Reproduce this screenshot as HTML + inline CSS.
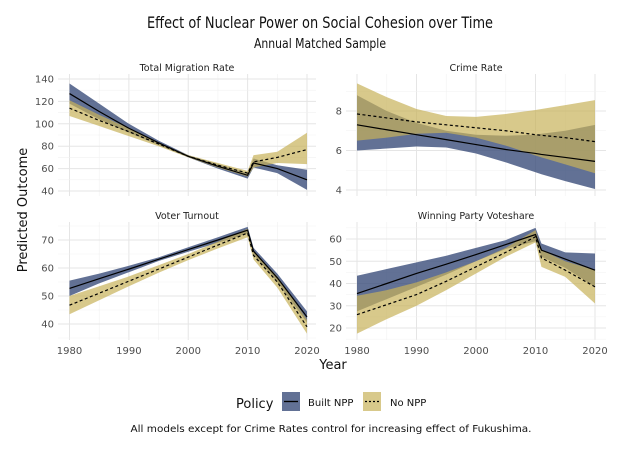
<!DOCTYPE html>
<html><head><meta charset="utf-8"><style>
body{margin:0;background:#fff}
svg{display:block;font-family:"DejaVu Sans","Liberation Sans",sans-serif}
</style></head><body>
<svg id="chart" width="640" height="450" viewBox="0 0 640 450">
<text x="320" y="28" text-anchor="middle" font-size="16" fill="#111" textLength="346" lengthAdjust="spacingAndGlyphs">Effect of Nuclear Power on Social Cohesion over Time</text>
<text x="320" y="48" text-anchor="middle" font-size="13" fill="#111" textLength="132" lengthAdjust="spacingAndGlyphs">Annual Matched Sample</text>
<text transform="translate(27,210) rotate(-90)" text-anchor="middle" font-size="13" fill="#111">Predicted Outcome</text>
<text x="333" y="369" text-anchor="middle" font-size="13" fill="#111">Year</text>
<g>
<text x="236" y="408" font-size="13" fill="#111">Policy</text>
<g><rect x="282" y="392" width="18" height="19" fill="#3b4d7a" fill-opacity="0.8"/><line x1="284" y1="401.5" x2="298" y2="401.5" stroke="#000" stroke-width="1.3"/><text x="308" y="406" font-size="10" fill="#111">Built NPP</text></g>
<g><rect x="363" y="392" width="18" height="19" fill="#c8b25a" fill-opacity="0.7"/><line x1="365" y1="401.5" x2="379" y2="401.5" stroke="#000" stroke-width="1.3" stroke-dasharray="2,2"/><text x="390" y="406" font-size="10" fill="#111">No NPP</text></g>
</g>
<text x="331" y="432" text-anchor="middle" font-size="10" fill="#111" textLength="401" lengthAdjust="spacingAndGlyphs">All models except for Crime Rates control for increasing effect of Fukushima.</text>
</svg>
<script>
const years=[1980,1985,1990,1995,2000,2005,2010,2011,2015,2020];
const xTicks=[1980,1990,2000,2010,2020];
const panelTitles=["Total Migration Rate","Crime Rate","Voter Turnout","Winning Party Voteshare"];
const migB=[127,111,96,83,71,62,54,65,60,50];
const migBlo=[118,104,92,81,70,60,51,61,56,41];
const migBhi=[136,118,100,85,72,64,56,69,63,59];
const migN=[114,103,93,82,71,63,56,66,70,77];
const migNlo=[107,98,89,80,70,61,53,61,65,64];
const migNhi=[121,108,96,83,72,65,58,72,75,92];
const crmB=[7.3,7.05,6.8,6.55,6.3,6.05,5.85,5.8,5.65,5.45];
const crmBlo=[6.0,6.1,6.2,6.15,5.85,5.4,4.9,4.8,4.45,4.05];
const crmBhi=[8.8,8.0,7.4,7.0,6.8,6.75,6.8,6.85,7.0,7.3];
const crmN=[7.85,7.65,7.45,7.3,7.15,7.0,6.8,6.77,6.65,6.45];
const crmNlo=[6.5,6.65,6.85,6.9,6.65,6.25,5.75,5.65,5.3,4.85];
const crmNhi=[9.4,8.7,8.1,7.75,7.7,7.85,8.05,8.1,8.3,8.55];
const vtB=[52.7,56.2,59.6,63.1,66.6,70,73.5,66,56.5,42.5];
const vtBlo=[50,54.5,58.5,62.5,65.8,69,72.3,64.8,55,40.5];
const vtBhi=[55.5,58,60.8,63.8,67.4,71,74.7,67.2,58,44.5];
const vtN=[46.7,51,55.3,59.6,63.9,68.2,72.5,64.5,55,39];
const vtNlo=[43.5,48.5,53.5,58.3,62.8,67,71,63,53,36.5];
const vtNhi=[50,53.5,57,61,65,69.4,74,66,57,41.5];
const vsB=[35.5,40,44.5,48.7,53,57.5,62,55,51,46];
const vsBlo=[27.5,33,38.5,44,50,55.5,59,52,47,38.5];
const vsBhi=[43.5,46.5,49.5,52.5,56,59.5,65,58,54,53.5];
const vsN=[26,30.5,35,41,47.5,54,61,51.5,46,38.5];
const vsNlo=[17.5,24,30,37,44.5,52,58.5,47.5,43,31];
const vsNhi=[34.5,37,40.5,45,50,56,64,55,50,46];
const yTicksMig=[40,60,80,100,120,140];
const yTicksCrm=[4,6,8];
const yTicksVt=[40,50,60,70];
const yTicksVs=[20,30,40,50,60];

const NS="http://www.w3.org/2000/svg";
const svg=document.getElementById('chart');
function mk(t,a,p){const e=document.createElementNS(NS,t);for(const k in a)e.setAttribute(k,a[k]);(p||svg).appendChild(e);return e;}
const panels=[
 {title:panelTitles[0],x0:58,x1:316,y0:74,y1:196,xa:69.5,xb:307,va:140,pa:79,vb:40,pb:191,ticks:yTicksMig,minor:20,B:migB,Blo:migBlo,Bhi:migBhi,N:migN,Nlo:migNlo,Nhi:migNhi,key:'migration',xl:false},
 {title:panelTitles[1],x0:346,x1:606,y0:74,y1:196,xa:357,xb:595,va:8,pa:111,vb:4,pb:190,ticks:yTicksCrm,minor:2,B:crmB,Blo:crmBlo,Bhi:crmBhi,N:crmN,Nlo:crmNlo,Nhi:crmNhi,key:'crime',xl:false},
 {title:panelTitles[2],x0:58,x1:316,y0:222,y1:340,xa:69.5,xb:307,va:70,pa:240,vb:40,pb:324,ticks:yTicksVt,minor:10,B:vtB,Blo:vtBlo,Bhi:vtBhi,N:vtN,Nlo:vtNlo,Nhi:vtNhi,key:'turnout',xl:true},
 {title:panelTitles[3],x0:346,x1:606,y0:222,y1:340,xa:357,xb:595,va:60,pa:239,vb:20,pb:328,ticks:yTicksVs,minor:10,B:vsB,Blo:vsBlo,Bhi:vsBhi,N:vsN,Nlo:vsNlo,Nhi:vsNhi,key:'voteshare',xl:true}
];
panels.forEach(p=>{
 const X=v=>p.xa+(v-1980)/40*(p.xb-p.xa);
 const Y=v=>p.pa+(v-p.va)/(p.vb-p.va)*(p.pb-p.pa);
 const g=mk('g',{});
 
 
 const t=mk('text',{x:(p.x0+p.x1)/2,y:p.y0-3,'text-anchor':'middle','font-size':9.5,fill:'#222'},g);t.textContent=p.title;
 
 
 for(let i=0;i<xTicks.length;i++){
  const v=xTicks[i];
  mk('line',{x1:X(v),x2:X(v),y1:p.y0,y2:p.y1,stroke:'#e5e5e5','stroke-width':1},g);
  if(i<xTicks.length-1)mk('line',{x1:X(v+5),x2:X(v+5),y1:p.y0,y2:p.y1,stroke:'#f1f1f1','stroke-width':0.6},g);
 }
 const mn=p.ticks[0]-p.minor/2, mx=p.ticks[p.ticks.length-1]+p.minor/2;
 for(let v=mn;v<=mx+1e-9;v+=p.minor/2){
  const yy=Y(v); if(yy<p.y0||yy>p.y1)continue;
  const major=p.ticks.some(t=>Math.abs(t-v)<1e-6);
  mk('line',{x1:p.x0,x2:p.x1,y1:yy,y2:yy,stroke:major?'#e5e5e5':'#f1f1f1','stroke-width':major?1:0.6},g);
 }
 p.ticks.forEach(v=>{const tt=mk('text',{x:p.x0-4,y:Y(v)+3.5,'text-anchor':'end','font-size':10,fill:'#4d4d4d'},g);tt.textContent=v;
  
  });
 if(p.xl)xTicks.forEach(v=>{const tt=mk('text',{x:X(v),y:p.y1+14,'text-anchor':'middle','font-size':10,fill:'#4d4d4d'},g);tt.textContent=v;
  
  });
 function band(lo,hi,fill,op,name){
  let d='M'+years.map((y,i)=>X(y)+','+Y(hi[i])).join('L')+'L'+years.map((y,i)=>X(y)+','+Y(lo[i])).reverse().join('L')+'Z';
  const e=mk('path',{d:d,fill:fill,'fill-opacity':op},g);
  
  
 }
 function line(v,dash,name){
  const e=mk('polyline',{points:years.map((y,i)=>X(y)+','+Y(v[i])).join(' '),fill:'none',stroke:'#000','stroke-width':1.2,'stroke-dasharray':dash},g);
  
  
 }
 band(p.Blo,p.Bhi,'#3b4d7a',0.8,'band-built-'+p.key);
 band(p.Nlo,p.Nhi,'#c8b25a',0.7,'band-none-'+p.key);
 line(p.B,'none','line-built-'+p.key);
 line(p.N,'3,2.5','line-none-'+p.key);
});
</script>
</body></html>
